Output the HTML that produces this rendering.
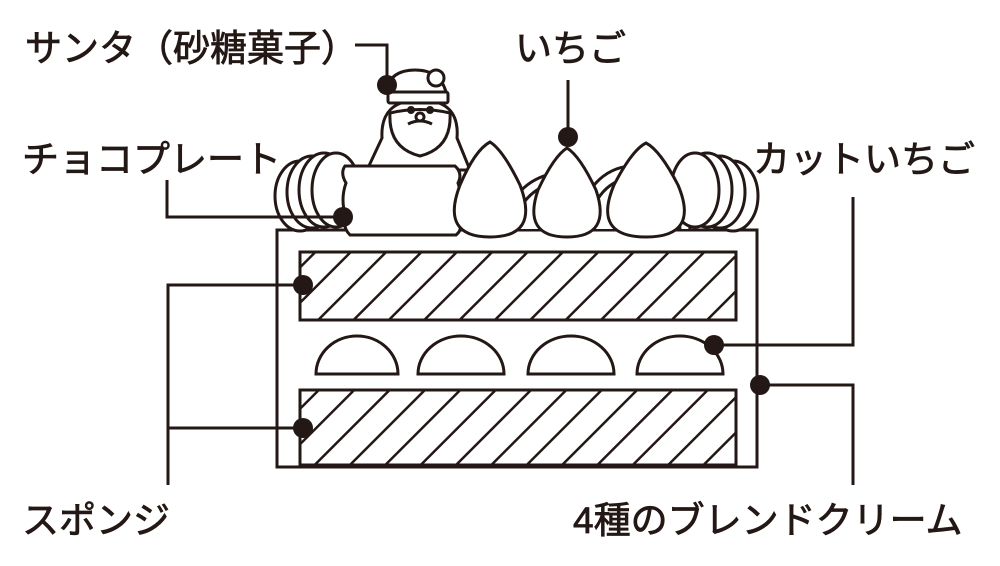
<!DOCTYPE html>
<html><head><meta charset="utf-8"><style>
body{margin:0;background:#fff;}
svg{display:block}
text{font-family:"Liberation Sans","Noto Sans CJK JP",sans-serif;font-size:37px;fill:#231815;stroke:#231815;stroke-width:0.8;}
</style></head><body>
<svg width="1000" height="566" viewBox="0 0 1000 566">
<defs>
<pattern id="h" width="25" height="25" patternUnits="userSpaceOnUse" patternTransform="rotate(45)">
<rect width="25" height="25" fill="#fff"/><line x1="0" y1="0" x2="0" y2="25" stroke="#231815" stroke-width="5"/>
</pattern>
</defs>
<g stroke="#231815" stroke-width="3" fill="#fff">
<rect x="277" y="230" width="480" height="237"/>
<rect x="300" y="252" width="436" height="68" fill="url(#h)"/>
<rect x="300" y="390" width="436" height="75" fill="url(#h)"/>
<path d="M316 374 A41 38 0 0 1 398 374 Z"/>
<path d="M418 374 A43 38 0 0 1 504 374 Z"/>
<path d="M528 374 A43 38 0 0 1 614 374 Z"/>
<path d="M637 374 A43 38 0 0 1 723 374 Z"/>
<path d="M505 229 C505 170 600 140 612 229"/>
<path d="M515 229 C515 180 595 155 602 229"/>
<path d="M580 229 C580 150 680 140 690 229"/>
<path d="M590 229 C590 165 675 155 680 229"/>
<ellipse cx="300" cy="196" rx="25" ry="35"/>
<ellipse cx="312" cy="192" rx="25" ry="36"/>
<ellipse cx="324" cy="190" rx="25" ry="37"/>
<ellipse cx="336" cy="190" rx="24" ry="37"/>
<ellipse cx="733" cy="196" rx="25" ry="35"/>
<ellipse cx="720" cy="192" rx="25" ry="36"/>
<ellipse cx="707" cy="190" rx="25" ry="37"/>
<ellipse cx="695" cy="190" rx="24" ry="37"/>
<path d="M367 170 L382 138 Q380 100 420 100 Q460 100 457 138 L470 170 Z"/>
<path d="M390 113 Q420 106 450 113 Q452 148 420 156 Q388 148 390 113 Z"/>
<path d="M385 92 Q390 70 415 70 Q440 70 446 92 Z"/>
<rect x="388" y="92" width="60" height="11" rx="2"/>
<circle cx="436" cy="78" r="8"/>
<circle cx="411" cy="110" r="2.5" fill="#231815"/><circle cx="430" cy="110" r="2.5" fill="#231815"/>
<circle cx="420" cy="117" r="4"/>
<path d="M408 124 Q420 118 432 124" fill="none"/>
<path d="M345 166 L455 166 Q463 173 458 183 Q464 200 458 217 Q464 229 456 235 L350 235 Q342 227 346 217 Q340 200 346 183 Q340 173 345 166 Z"/>
<path d="M490 142 Q503 150 520 185 Q540 237 490 237 Q440 237 460 185 Q475 150 490 142 Z"/>
<path d="M567 148 Q580 156 596 190 Q612 237 567 237 Q522 237 538 190 Q554 156 567 148 Z"/>
<path d="M646 143 Q660 150 678 185 Q700 237 646 237 Q592 237 614 185 Q632 150 646 143 Z"/>
<g fill="none">
<polyline points="355,45 387,45 387,85"/>
<line x1="568" y1="80" x2="568" y2="137"/>
<polyline points="167,180 167,217 343,217"/>
<polyline points="853,197 853,345 714,345"/>
<polyline points="303,285 168,285 168,485"/>
<line x1="168" y1="428" x2="303" y2="428"/>
<polyline points="760,385 853,385 853,485"/>
</g>
</g>
<g fill="#231815">
<circle cx="387" cy="85" r="10"/><circle cx="568" cy="137" r="10"/>
<circle cx="343" cy="217" r="10"/><circle cx="714" cy="345" r="10"/>
<circle cx="303" cy="285" r="10"/><circle cx="303" cy="428" r="10"/>
<circle cx="760" cy="385" r="10"/>
</g>
<text x="25" y="61">サンタ（砂糖菓子）</text>
<text x="515" y="61">いちご</text>
<text x="22" y="172">チョコプレート</text>
<text x="753" y="172">カットいちご</text>
<text x="22" y="533">スポンジ</text>
<text x="573" y="533">4種のブレンドクリーム</text>
</svg>
</body></html>
